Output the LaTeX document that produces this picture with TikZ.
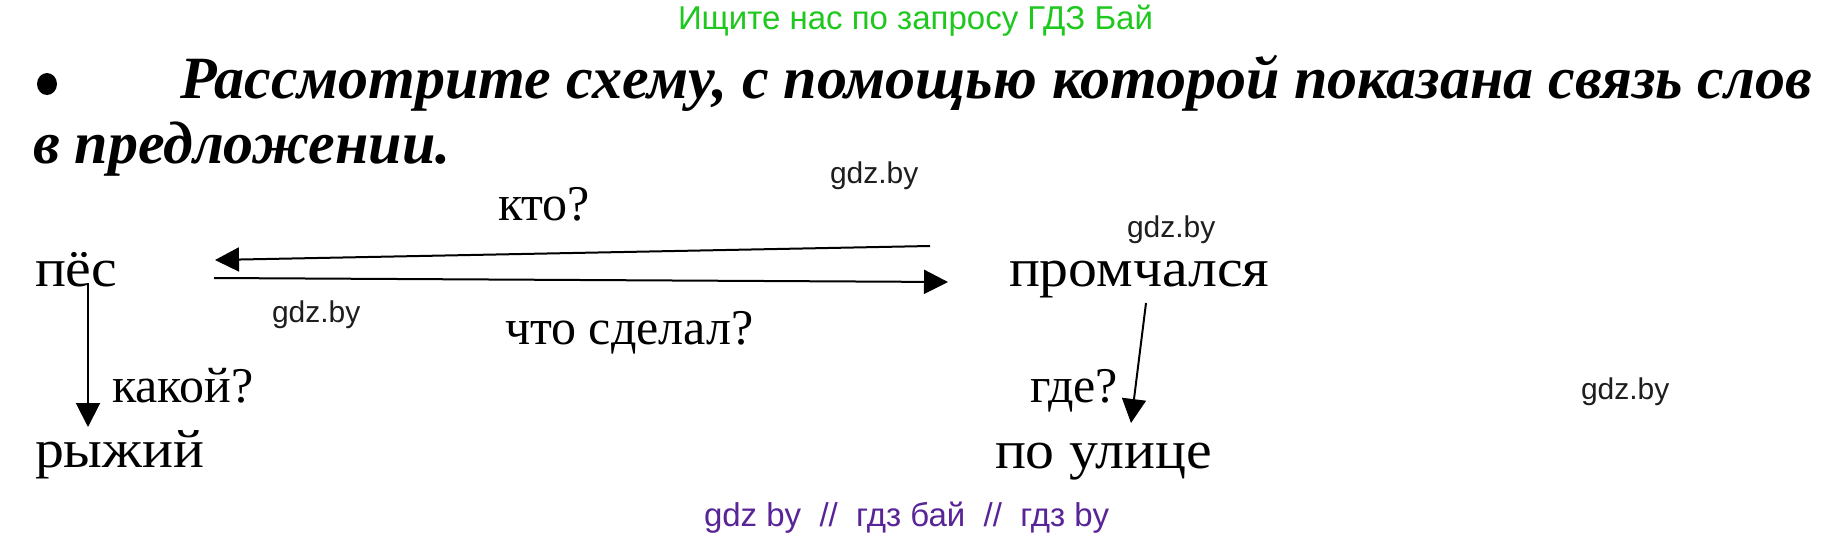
\documentclass[tikz,border=0pt]{standalone}
\usepackage{fontspec}
\setmainfont{Liberation Serif}
\newfontfamily\wmfont{Liberation Sans}
\usetikzlibrary{arrows.meta}
\definecolor{hdrgreen}{RGB}{30,200,30}
\definecolor{wmpurple}{RGB}{88,36,150}
\definecolor{wmgray}{RGB}{30,30,30}
\newcommand{\wordtxt}[1]{\scalebox{1.07}[1]{#1}}
\newcommand{\questxt}[1]{\scalebox{1.0}[1]{#1}}
\tikzset{
  txt/.style={anchor=base west, inner sep=0pt, outer sep=0pt},
  word/.style={txt, font=\fontsize{54}{60}\selectfont},
  ques/.style={txt, font=\fontsize{50}{56}\selectfont},
  head/.style={txt, font=\fontsize{60}{66}\selectfont\bfseries\itshape},
  wm/.style={txt, text=wmgray, font=\wmfont\fontsize{30}{34}\selectfont},
  link/.style={line width=2pt, -{Triangle[length=24pt,width=24pt]}},
}
\begin{document}
\begin{tikzpicture}[x=1pt,y=-1pt]
\useasboundingbox[fill=white] (0,0) rectangle (1825,538);
% header
\node[txt, text=hdrgreen, font=\wmfont\fontsize{33}{36}\selectfont] (hdr) at (678,29) {Ищите нас по запросу ГДЗ Бай};
% heading
\fill (47,84) ellipse [x radius=10, y radius=11];
\node[head] (h1) at (180,98) {Рассмотрите схему, с помощью которой показана связь слов};
\node[head] (h2) at (33,163) {в предложении.};
% words
\node[word] (pes) at (35,286) {\wordtxt{пёс}};
\node[word] (prom) at (1009,286) {\wordtxt{промчался}};
\node[word] (ryz) at (35,467) {\wordtxt{рыжий}};
\node[word] (ul) at (995,468) {\wordtxt{по улице}};
% questions
\node[ques] (kto) at (498,220) {\questxt{кто?}};
\node[ques] (chto) at (505,344) {\questxt{что сделал?}};
\node[ques] (kak) at (112,402) {\questxt{какой?}};
\node[ques] (gde) at (1030,402) {\questxt{где?}};
% watermarks
\node[wm] (w1) at (830,183) {gdz.by};
\node[wm] (w2) at (1127,237) {gdz.by};
\node[wm] (w3) at (272,322) {gdz.by};
\node[wm] (w4) at (1581,399) {gdz.by};
\node[txt, text=wmpurple, font=\wmfont\fontsize{33}{36}\selectfont] (w5) at (704,526) {gdz by \ // \ гдз бай \ // \ гдз by};
% connector ends
\coordinate (a1s) at (930,246);
\coordinate (a1e) at (215,260);
\coordinate (a2s) at (214,278);
\coordinate (a2e) at (948,282);
\coordinate (a3s) at (88,283);
\coordinate (a3e) at (88,427);
\coordinate (a4s) at (1146,303);
\coordinate (a4e) at (1131,423);
\draw[link] (a1s) -- (a1e);
\draw[link] (a2s) -- (a2e);
\draw[link] (a3s) -- (a3e);
\draw[link] (a4s) -- (a4e);
\end{tikzpicture}
\end{document}
